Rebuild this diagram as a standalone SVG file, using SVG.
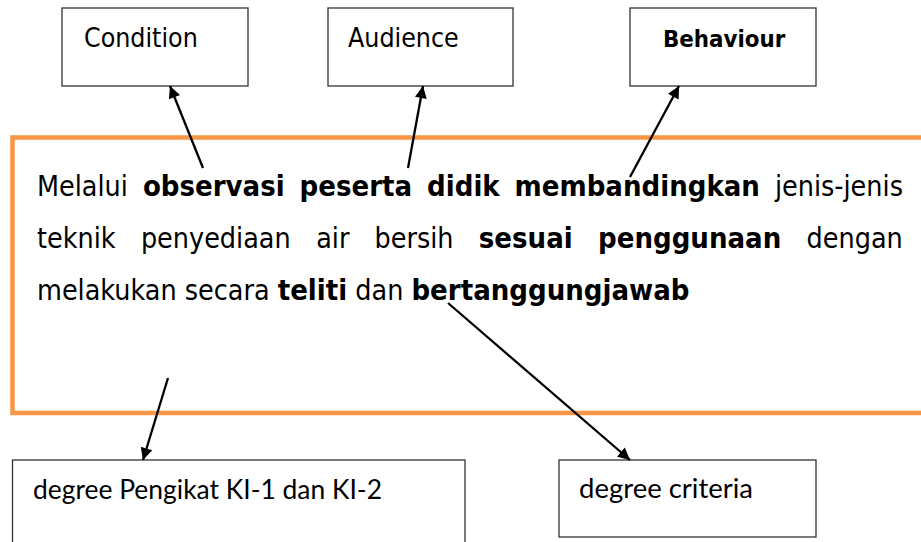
<svg xmlns="http://www.w3.org/2000/svg" width="921" height="542" viewBox="0 0 921 542">
<style>
.box{fill:#fff;stroke:#333;stroke-width:1.3}
.lbl{font-family:"DejaVu Sans Condensed","DejaVu Sans",sans-serif;font-stretch:condensed;font-size:26.5px;fill:#000}
.lblb{font-family:"DejaVu Sans Condensed","DejaVu Sans",sans-serif;font-stretch:condensed;font-size:23.8px;font-weight:bold;fill:#000}
.lbl2{font-family:Lato,"Liberation Sans",sans-serif;font-size:27px;fill:#000}
.para{font-family:"DejaVu Sans Condensed","DejaVu Sans",sans-serif;font-stretch:condensed;font-size:28.4px;fill:#000}
.b{font-weight:bold;font-size:29px}
.conn line{stroke:#000;stroke-width:2.3;marker-end:url(#ah)}
</style>
<defs>
<marker id="ah" viewBox="0 0 10 10" refX="10" refY="5" markerWidth="16" markerHeight="12" markerUnits="userSpaceOnUse" orient="auto">
<path d="M0,0 L10,5 L0,10 z" fill="#000"/>
</marker>
</defs>
<rect width="921" height="542" fill="#fff"/>
<g id="node-condition"><rect class="box" x="62" y="8" width="186" height="78"/><text class="lbl" x="84" y="47">Condition</text></g>
<g id="node-audience"><rect class="box" x="328" y="8" width="185" height="78"/><text class="lbl" x="348" y="47">Audience</text></g>
<g id="node-behaviour"><rect class="box" x="630" y="8" width="186" height="78"/><text class="lblb" x="663" y="47">Behaviour</text></g>
<g id="node-statement">
<rect x="12.5" y="137.5" width="930" height="275.5" fill="none" stroke="#F79646" stroke-width="4.5"/>
<text class="para" y="196"><tspan x="37">Melalui</tspan><tspan class="b" x="142.9">observasi</tspan><tspan class="b" x="299.6">peserta</tspan><tspan class="b" x="427.1">didik</tspan><tspan class="b" x="514.6">membandingkan</tspan><tspan x="774.9">jenis-jenis</tspan></text>
<text class="para" y="248"><tspan x="37">teknik</tspan><tspan x="140.9">penyediaan</tspan><tspan x="316.2">air</tspan><tspan x="374.5">bersih</tspan><tspan class="b" x="478.8">sesuai</tspan><tspan class="b" x="598">penggunaan</tspan><tspan x="806.6">dengan</tspan></text>
<text class="para" x="37" y="300">melakukan secara <tspan class="b">teliti</tspan> dan <tspan class="b">bertanggungjawab</tspan></text>
</g>
<g id="node-ki"><rect class="box" x="12.5" y="460" width="452.5" height="100"/><text class="lbl2" x="33" y="499" textLength="349" lengthAdjust="spacingAndGlyphs">degree Pengikat KI-1 dan KI-2</text></g>
<g id="node-criteria"><rect class="box" x="559" y="460" width="257" height="77"/><text class="lbl2" x="579" y="498" textLength="174" lengthAdjust="spacingAndGlyphs">degree criteria</text></g>
<g id="connectors" class="conn">
<line x1="203" y1="168" x2="170" y2="86"/>
<line x1="408" y1="168" x2="423" y2="86"/>
<line x1="630" y1="177" x2="679" y2="86"/>
<line x1="168" y1="378" x2="143" y2="460"/>
<line x1="448" y1="303" x2="630" y2="460"/>
</g>
</svg>
